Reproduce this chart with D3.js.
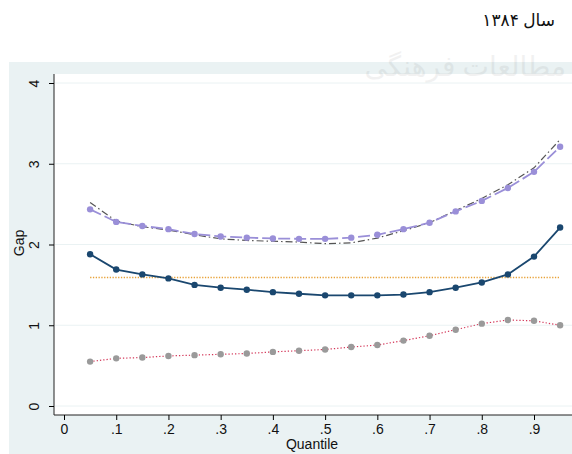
<!DOCTYPE html>
<html>
<head>
<meta charset="utf-8" />
<script src="https://d3js.org/d3.v7.min.js"></script>
<style>
  body { margin: 0; background: #fff; }
  svg { display: block; font-family: "Liberation Sans", Arial, sans-serif; }
</style>
</head>
<body>
<div id="visu"></div>
<script>
// quantiles on the x axis
const quantiles = [.05, .1, .15, .2, .25, .3, .35, .4, .45, .5, .55, .6, .65, .7, .75, .8, .85, .9, .95];

// series
const gapTotal   = [2.435, 2.28, 2.23, 2.19, 2.13, 2.10, 2.085, 2.075, 2.07, 2.07, 2.085, 2.12, 2.19, 2.27, 2.41, 2.54, 2.70, 2.90, 3.21];
const gapSmooth  = [2.52, 2.29, 2.22, 2.18, 2.12, 2.07, 2.05, 2.04, 2.03, 2.01, 2.02, 2.08, 2.17, 2.27, 2.42, 2.57, 2.74, 2.95, 3.30];
const gapExpl    = [1.88, 1.69, 1.63, 1.58, 1.50, 1.465, 1.44, 1.41, 1.39, 1.37, 1.37, 1.37, 1.38, 1.41, 1.465, 1.53, 1.63, 1.85, 2.21];
const gapMean    = [1.59, 1.59];
const gapUnexpl  = [0.55, 0.59, 0.60, 0.62, 0.63, 0.64, 0.65, 0.67, 0.685, 0.70, 0.73, 0.755, 0.81, 0.87, 0.945, 1.02, 1.065, 1.055, 1.0];

const xTicks = [0, .1, .2, .3, .4, .5, .6, .7, .8, .9];
const yTicks = [0, 1, 2, 3, 4];

const W = 572, H = 454;
const svg = d3.select("#visu").append("svg").attr("width", W).attr("height", H);

// outer light background (stata style)
svg.append("rect").attr("x", 9).attr("y", 62).attr("width", W - 9).attr("height", H - 62).attr("fill", "#eaf2f3");
// plot region
svg.append("rect").attr("x", 54).attr("y", 74).attr("width", W - 54).attr("height", 341).attr("fill", "#fff");

// faint watermark of the scanned page
svg.append("text").attr("x", 566).attr("y", 76).attr("text-anchor", "end")
  .style("font-family", "'Noto Sans', 'DejaVu Sans'").style("font-size", "28px")
  .attr("fill", "#000").attr("opacity", 0.05).text("مطالعات فرهنگی");

const x = d3.scaleLinear().domain([0, .9]).range([64, 534]);
const y = d3.scaleLinear().domain([0, 4]).range([406, 83]);

// horizontal gridlines
svg.append("g").selectAll("line").data(yTicks).join("line")
  .attr("x1", 55).attr("x2", W).attr("y1", d => y(d)).attr("y2", d => y(d))
  .attr("stroke", "#eaf2f3").attr("stroke-width", 1);

// axes
const xAxis = svg.append("g").attr("transform", "translate(0,415)")
  .call(d3.axisBottom(x).tickValues(xTicks).tickSize(5).tickPadding(4)
    .tickFormat(d => d === 0 ? "0" : d3.format(".1f")(d).replace(/^0/, "")));
xAxis.select(".domain").attr("d", `M54,0H${W}`).attr("stroke", "#222");
xAxis.selectAll("text").style("font-size", "14px").attr("fill", "#111");

const yAxis = svg.append("g").attr("transform", "translate(54,0)")
  .call(d3.axisLeft(y).tickValues(yTicks).tickSize(5).tickFormat(d3.format("d")));
yAxis.select(".domain").attr("d", "M0,74V415").attr("stroke", "#222");
yAxis.selectAll("text")
  .attr("transform", "translate(-20,0) rotate(-90)").attr("x", 0).attr("y", 0)
  .attr("dy", "0.35em").attr("text-anchor", "middle").style("font-size", "14px").attr("fill", "#111");

svg.append("text").attr("x", 312).attr("y", 449).attr("text-anchor", "middle")
  .style("font-size", "14px").attr("fill", "#111").text("Quantile");
svg.append("text").attr("transform", "translate(24,243) rotate(-90)").attr("text-anchor", "middle")
  .style("font-size", "14px").attr("fill", "#111").text("Gap");

// title
svg.append("text").attr("x", 555).attr("y", 26).attr("text-anchor", "end")
  .style("font-family", "'Noto Sans', 'DejaVu Sans'").style("font-size", "17px").attr("fill", "#111")
  .text("سال ۱۳۸۴");

const line = d3.line().x(d => x(d[0])).y(d => y(d[1]));
const pts = vals => quantiles.map((q, i) => [q, vals[i]]);

// mean gap (orange dotted)
svg.append("path").datum([[quantiles[0], gapMean[0]], [quantiles[quantiles.length - 1], gapMean[1]]])
  .attr("d", line).attr("fill", "none").attr("stroke", "#e8a238").attr("stroke-width", 1.5).attr("stroke-dasharray", "1.3,1.5");

// unexplained (red dotted, gray dots)
svg.append("path").datum(pts(gapUnexpl)).attr("d", line).attr("fill", "none")
  .attr("stroke", "#d4385a").attr("stroke-width", 1.2).attr("stroke-dasharray", "1.3,2");
svg.append("g").selectAll("circle").data(pts(gapUnexpl)).join("circle")
  .attr("cx", d => x(d[0])).attr("cy", d => y(d[1])).attr("r", 3.2).attr("fill", "#9a9a9a");

// explained (navy solid)
svg.append("path").datum(pts(gapExpl)).attr("d", line).attr("fill", "none")
  .attr("stroke", "#1a476f").attr("stroke-width", 1.8);
svg.append("g").selectAll("circle").data(pts(gapExpl)).join("circle")
  .attr("cx", d => x(d[0])).attr("cy", d => y(d[1])).attr("r", 3.2).attr("fill", "#1a476f");

// smoothed (dark gray dash-dot)
svg.append("path").datum(pts(gapSmooth)).attr("d", line).attr("fill", "none")
  .attr("stroke", "#555").attr("stroke-width", 1.2).attr("stroke-dasharray", "7,3,1.5,3");

// total gap (lavender dashed)
svg.append("path").datum(pts(gapTotal)).attr("d", line).attr("fill", "none")
  .attr("stroke", "#9a8fd8").attr("stroke-width", 1.8).attr("stroke-dasharray", "12,4");
svg.append("g").selectAll("circle").data(pts(gapTotal)).join("circle")
  .attr("cx", d => x(d[0])).attr("cy", d => y(d[1])).attr("r", 3.2).attr("fill", "#9a8fd8");
</script>
</body>
</html>
